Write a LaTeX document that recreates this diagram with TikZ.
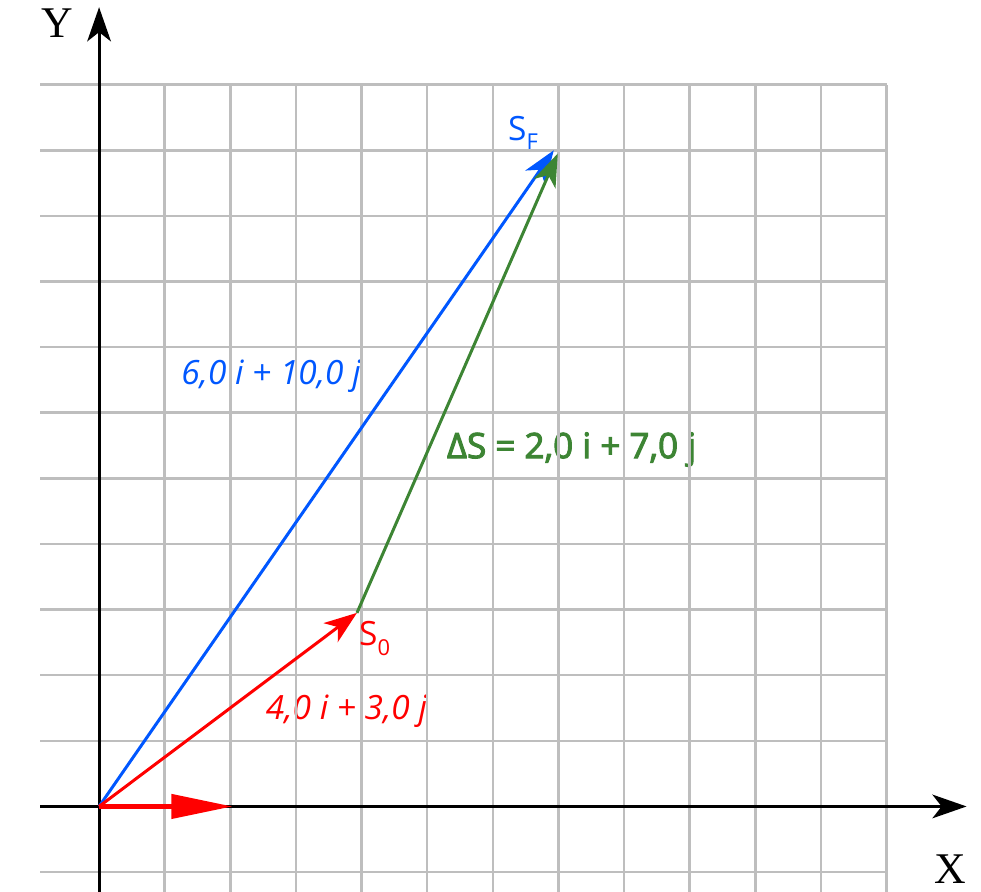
\documentclass[tikz,border=0pt]{standalone}
\usepackage{fontspec}
\setmainfont{Liberation Serif}
\newfontfamily\osans{Open Sans}
\newfontfamily\osanssemi[FakeBold=3]{Open Sans}
\usetikzlibrary{arrows.meta}

\definecolor{vblue}{RGB}{0,87,255}
\definecolor{vred}{RGB}{255,0,0}
\definecolor{vgreen}{RGB}{61,133,52}
\definecolor{gridgray}{RGB}{190,190,190}

\tikzset{
  vec/.style={line width=1.3pt, -{Stealth[length=0.5cm, width=0.36cm, inset=0.14cm]}},
  axis/.style={line width=1.3pt, black, -{Stealth[length=0.52cm, width=0.36cm, inset=0.14cm]}},
  lbl/.style={font=\osans\fontsize{14.5}{17}\selectfont, inner sep=0pt},
  axlbl/.style={font=\fontsize{19}{22}\selectfont, inner sep=0pt}
}

\begin{document}
\begin{tikzpicture}
\useasboundingbox (-1.51,-1.3) rectangle (13.44,12.29);

% vector labels (under the grid)
\node[lbl, text=vblue] (sflabel) at (2.62,6.55) {\itshape 6,0 i + 10,0 j};
\node[lbl, text=vgreen, font=\osanssemi\fontsize{15.2}{17}\selectfont] (dslabel) at (7.2,5.44) {ΔS = 2,0 i + 7,0 j};
\node[lbl, text=vred] (s0label) at (3.77,1.45) {\itshape 4,0 i + 3,0 j};

% grid
\draw[step=1cm, color=gridgray, line width=1.1pt] (-0.9,-1.3) grid (12,11);

% axes
\coordinate (O) at (0,0);
\coordinate (xstart) at (-0.9,0);
\coordinate (xend) at (13.22,0);
\coordinate (ystart) at (0,-1.3);
\coordinate (yend) at (0,12.18);
\draw[axis] (xstart) -- (xend);
\draw[axis] (ystart) -- (yend);
\node[axlbl] (xname) at (12.97,-0.95) {X};
\node[axlbl] (yname) at (-0.64,11.93) {Y};

% vectors
\coordinate (S0) at (3.93,2.95);
\coordinate (SF) at (6.93,10);
\coordinate (SFg) at (6.99,9.95);
\coordinate (ihat) at (2.04,0);
\draw[vec, vblue] (O) -- (SF);
\draw[vec, vgreen] (S0) -- (SFg);
\draw[vec, vred] (O) -- (S0);
\draw[line width=2.4pt, vred, -{Triangle[length=0.94cm, width=0.36cm]}] (O) -- (ihat);

% point names
\node[lbl, text=vred] (s0name) at (4.2,2.56) {S\raisebox{-4pt}{\fontsize{9.5}{11}\selectfont 0}};
\node[lbl, text=vblue] (sfname) at (6.46,10.26) {S\raisebox{-4pt}{\fontsize{9.5}{11}\selectfont F}};
\end{tikzpicture}
\end{document}
